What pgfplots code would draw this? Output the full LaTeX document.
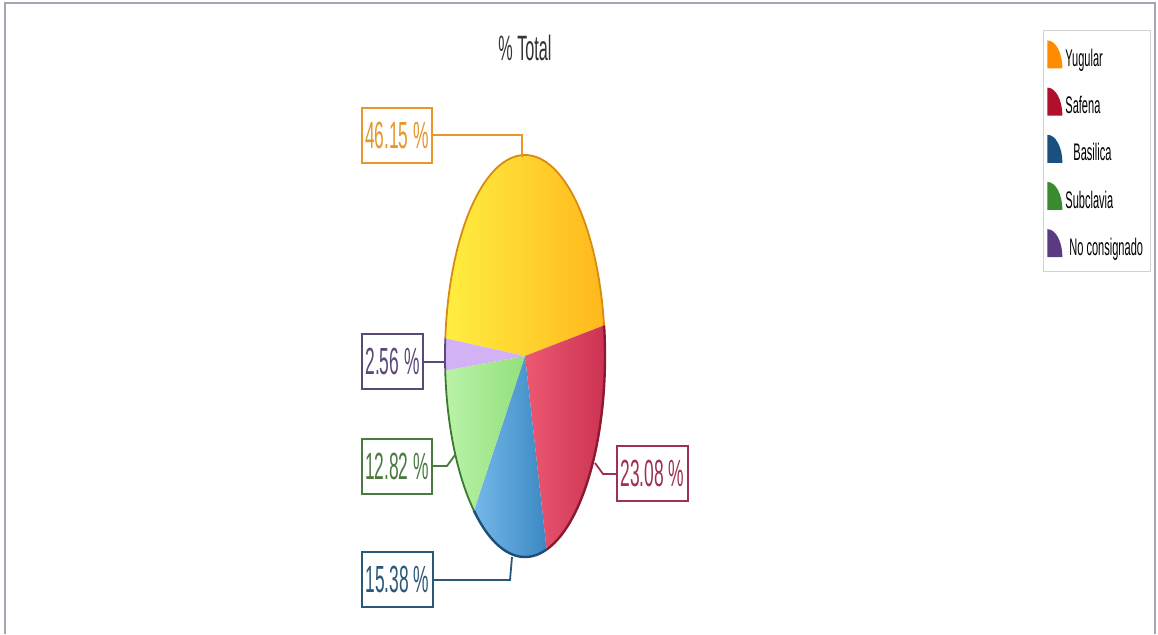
\documentclass[border=0pt]{standalone}
\usepackage{fontspec}
\setmainfont{Liberation Sans}[FakeStretch=0.46]
\usepackage{pgfplots}
\pgfplotsset{compat=1.18}
\definecolor{yugA}{HTML}{FFEE40}
\definecolor{yugB}{HTML}{FFB81C}
\definecolor{yugE}{HTML}{D98A10}
\definecolor{yugL}{HTML}{FF8C00}
\definecolor{yugT}{HTML}{E8962A}
\definecolor{safA}{HTML}{EC5872}
\definecolor{safB}{HTML}{CC3352}
\definecolor{safE}{HTML}{8A1A30}
\definecolor{safL}{HTML}{B0102C}
\definecolor{safT}{HTML}{A03050}
\definecolor{basA}{HTML}{74B8E8}
\definecolor{basB}{HTML}{3C88C4}
\definecolor{basE}{HTML}{1E4E78}
\definecolor{basL}{HTML}{1A5080}
\definecolor{basT}{HTML}{2A5878}
\definecolor{subA}{HTML}{BAF2A8}
\definecolor{subB}{HTML}{92E07C}
\definecolor{subE}{HTML}{3A7A30}
\definecolor{subL}{HTML}{3A8A30}
\definecolor{subT}{HTML}{4A7A40}
\definecolor{noA}{HTML}{D2B2F4}
\definecolor{noB}{HTML}{BC98E6}
\definecolor{noE}{HTML}{5A4A7A}
\definecolor{noL}{HTML}{5A3A80}
\definecolor{noT}{HTML}{5A4878}
\definecolor{frame}{HTML}{A4A4B4}
% shares in percent
\def\vYug{46.15}
\def\vSaf{23.08}
\def\vBas{15.38}
\def\vSub{12.82}
\def\vNo{2.56}
\def\aStart{8.8}
\pgfmathsetmacro\aA{\aStart+3.6*\vYug}
\pgfmathsetmacro\aB{\aA+3.6*\vNo}
\pgfmathsetmacro\aC{\aB+3.6*\vSub}
\pgfmathsetmacro\aD{\aC+3.6*\vBas}
\pgfmathsetmacro\aE{\aD+3.6*\vSaf}
\newcommand\quarter[1]{\fill[shade=false,fill=#1,draw=none] (0pt,-4.5pt) -- (0pt,9.5pt) arc[start angle=90,end angle=0,x radius=7.5pt,y radius=14pt] -- cycle;}
\begin{document}
\begin{tikzpicture}
\begin{axis}[x=0.5pt,y=0.5pt,xmin=0,xmax=1158,ymin=0,ymax=634,
  hide axis,clip=false,
  legend cell align=left,
  legend style={at={(0.9007,0.9527)},anchor=north west,draw=gray!35,fill=white,
    font=\fontsize{12}{14}\selectfont,row sep=7.5pt,inner xsep=2pt,inner ysep=5pt,
    nodes={inner sep=1.5pt}},
  ]
\path (0,0) rectangle (1158,634);
\draw[frame,line width=1pt] (5,0) -- (5,631) -- (1155,631) -- (1155,0);
% slices
\addplot[draw=none,left color=yugA,right color=yugB,domain=\aStart:\aA,samples=80,variable=\t,
  legend image code/.code={\quarter{yugL}}]
  ({525+80*cos(\t)},{278+201*sin(\t)}) -- (525,278) -- cycle;
\addlegendentry{Yugular}
\addplot[draw=none,left color=safA,right color=safB,domain=\aD:\aE,samples=60,variable=\t,
  legend image code/.code={\quarter{safL}}]
  ({525+80*cos(\t)},{278+201*sin(\t)}) -- (525,278) -- cycle;
\addlegendentry{Safena}
\addplot[draw=none,left color=basA,right color=basB,domain=\aC:\aD,samples=50,variable=\t,
  legend image code/.code={\quarter{basL}}]
  ({525+80*cos(\t)},{278+201*sin(\t)}) -- (525,278) -- cycle;
\addlegendentry{\hspace{4pt}Basilica}
\addplot[draw=none,left color=subA,right color=subB,domain=\aB:\aC,samples=40,variable=\t,
  legend image code/.code={\quarter{subL}}]
  ({525+80*cos(\t)},{278+201*sin(\t)}) -- (525,278) -- cycle;
\addlegendentry{Subclavia}
\addplot[draw=none,fill=noA,domain=\aA:\aB,samples=10,variable=\t,
  legend image code/.code={\quarter{noL}}]
  ({525+80*cos(\t)},{278+201*sin(\t)}) -- (525,278) -- cycle;
\addlegendentry{\hspace{2pt}No consignado}
% outer rims
\addplot[forget plot,yugE,line width=0.9pt,domain=\aStart:\aA,samples=80,variable=\t]
  ({525+80*cos(\t)},{278+201*sin(\t)});
\addplot[forget plot,noE,line width=0.9pt,domain=\aA:\aB,samples=10,variable=\t]
  ({525+80*cos(\t)},{278+201*sin(\t)});
\addplot[forget plot,subE,line width=0.9pt,domain=\aB:\aC,samples=40,variable=\t]
  ({525+80*cos(\t)},{278+201*sin(\t)});
\addplot[forget plot,basE,line width=1.2pt,domain=\aC:\aD,samples=50,variable=\t]
  ({525+80*cos(\t)},{278+201*sin(\t)});
\addplot[forget plot,safE,line width=1.2pt,domain=\aD:\aE,samples=60,variable=\t]
  ({525+80*cos(\t)},{278+201*sin(\t)});
% title
\node[font=\fontsize{17.6}{20}\selectfont,text=black!80] at (525,586) {\% Total};
% labels
\tikzset{lab/.style={draw=#1,line width=0.9pt,fill=white,text=#1,minimum height=27.5pt,inner sep=0pt,
  font=\fontsize{18.9}{20}\selectfont}}
\draw[yugT,line width=0.9pt] (432,499) -- (522,499) -- (522,477);
\node[lab=yugT,minimum width=35pt] at (397,498.5) {\vYug\ \%};
\draw[noE,line width=0.9pt] (423,272) -- (446,272);
\node[lab=noT,minimum width=30.5pt] at (392.5,272.5) {\vNo\ \%};
\draw[subT,line width=0.9pt] (432,168) -- (447,168) -- (455,179);
\node[lab=subT,minimum width=35pt] at (397,167.5) {\vSub\ \%};
\draw[basT,line width=0.9pt] (433,54) -- (510,54) -- (512,77);
\node[lab=basT,minimum width=35.5pt] at (397.5,54.5) {\vBas\ \%};
\draw[safT,line width=0.9pt] (617,160) -- (603,160) -- (595,171);
\node[lab=safT,minimum width=35.5pt] at (652.5,160.5) {\vSaf\ \%};
\end{axis}
\end{tikzpicture}
\end{document}
